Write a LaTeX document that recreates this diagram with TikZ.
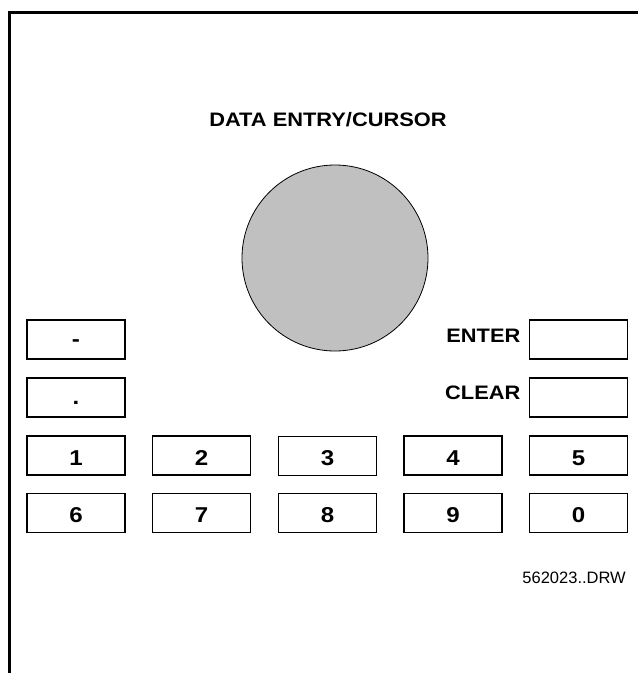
\documentclass[tikz,border=0pt]{standalone}
\usepackage{fontspec}
\setmainfont{Liberation Sans}
\newfontfamily\keyfont[FakeStretch=1.12, BoldFont={Liberation Sans Bold}]{Liberation Sans}
\usepackage{tikz}
\usetikzlibrary{positioning,calc}

\begin{document}
\begin{tikzpicture}[x=1pt, y=-1pt,
    key/.style={draw, line width=1.8pt, minimum width=98pt, minimum height=39pt, inner sep=0pt},
    thinkey/.style={key, line width=0.9pt},
    keytext/.style={font=\keyfont\bfseries\fontsize{21.5}{21.5}\selectfont, text height=19.4pt, text depth=0pt},
    label/.style={font=\keyfont\bfseries\fontsize{19.5}{19.5}\selectfont, inner sep=0pt}]
    \useasboundingbox (0,0) rectangle (638,673);

    % Panel edge
    \draw[line width=3.2pt] (9.2,680) -- (9.2,12.5) -- (645,12.5);

    % Data entry knob
    \node[label] (title) at (328,120) {DATA ENTRY/CURSOR};
    \node[circle, draw, line width=0.8pt, fill={rgb,255:red,192;green,192;blue,192}, minimum size=186pt, inner sep=0pt] (knob) at (335,258) {};

    % Left column keys
    \node[key, keytext, text height=14pt] (minus) at (76,339.5) {-};
    \node[key, keytext, text height=14pt] (point) at (76,397.5) {.};

    % Enter and clear
    \node[key] (enter) at (578.5,339.5) {};
    \node[key] (clear) at (578.5,397.5) {};
    \node[label, left=8pt of enter, yshift=4pt] (entertext) {ENTER};
    \node[label, left=8pt of clear, yshift=5pt] (cleartext) {CLEAR};

    % Number keys
    \foreach \d/\x/\y/\s in {1/76/455.5/key, 2/201.5/455.5/key, 3/327.5/455.5/thinkey, 4/453/455.5/key, 5/578.5/455.5/key,
                             6/76/513/key, 7/201.5/513/key, 8/327.5/513/thinkey, 9/453/513/key, 0/578.5/513/key}
        \node[\s, keytext] (k\d) at (\x,\y) {\d};

    % Drawing number
    \node[anchor=east, inner sep=0pt, font=\fontsize{16.5}{16.5}\selectfont] (dwg) at (626,577.5) {562023..DRW};
\end{tikzpicture}
\end{document}
